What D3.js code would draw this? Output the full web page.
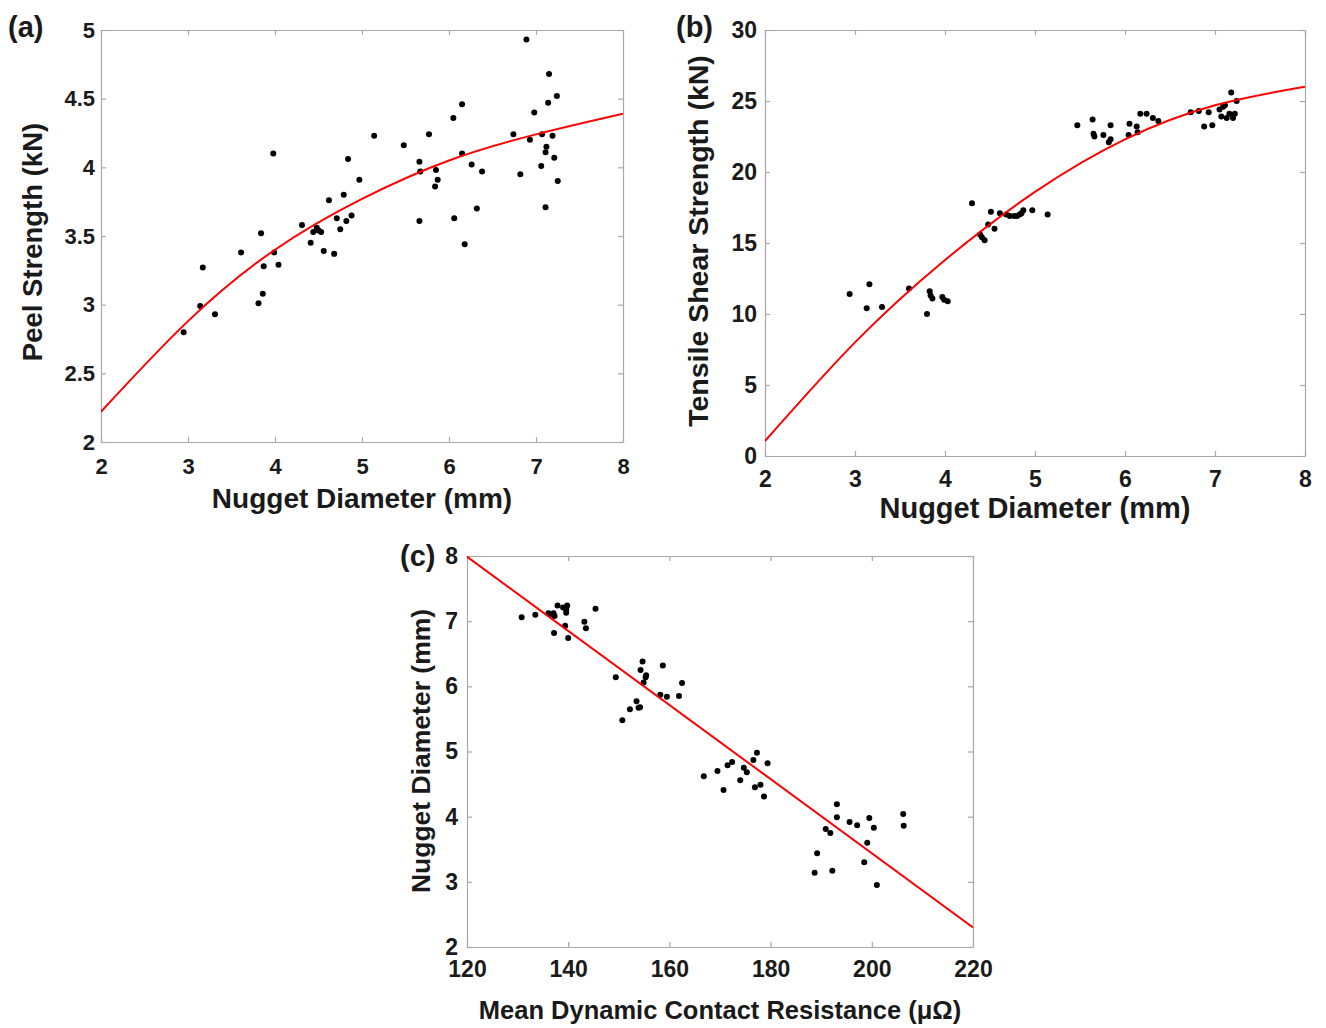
<!DOCTYPE html>
<html>
<head>
<meta charset="utf-8">
<script src="https://cdn.jsdelivr.net/npm/d3@7"></script>
<style>
  body { margin: 0; background: #fff; }
  text { font-family: 'Liberation Sans', Arial, sans-serif; font-weight: bold; fill: #1a1a1a; }
</style>
</head>
<body>
<svg id="chart" width="1326" height="1028"></svg>
<script>
'use strict';

// (a) peel strength vs nugget diameter
var peelDiam = [2.95, 3.14, 3.17, 3.31, 3.61, 3.81, 3.86, 3.84, 3.87, 3.98, 3.99, 4.04,
  4.31, 4.41, 4.44, 4.48, 4.50, 4.53, 4.56, 4.62, 4.68, 4.71, 4.75, 4.79, 4.82, 4.84, 4.88, 4.97,
  5.14, 5.48, 5.66, 5.67, 5.66, 5.77, 5.85, 5.87, 5.84, 6.05, 6.15, 6.15, 6.06, 6.18, 6.26, 6.32, 6.38,
  6.74, 6.82, 6.89, 6.93, 6.98, 7.06, 7.07, 7.11, 7.11, 7.12, 7.14, 7.15, 7.19, 7.21, 7.24, 7.25];
var peelStrength = [2.80, 2.99, 3.27, 2.93, 3.38, 3.01, 3.08, 3.52, 3.28, 4.10, 3.38, 3.29,
  3.58, 3.45, 3.53, 3.56, 3.54, 3.53, 3.39, 3.76, 3.37, 3.63, 3.55, 3.80, 3.61, 4.06, 3.65, 3.91,
  4.23, 4.16, 4.04, 3.97, 3.61, 4.24, 3.98, 3.91, 3.86, 4.36, 4.46, 4.10, 3.63, 3.44, 4.02, 3.70, 3.97,
  4.24, 3.95, 4.93, 4.20, 4.40, 4.01, 4.24, 3.71, 4.11, 4.15, 4.47, 4.68, 4.23, 4.07, 4.52, 3.90];
var fitDiam = [2, 3, 4, 5, 6, 7, 8];
var peelFit = [2.22, 2.88, 3.40, 3.77, 4.05, 4.24, 4.39];

// (b) tensile shear strength vs nugget diameter
var shearDiam = [2.94, 3.13, 3.16, 3.30, 3.60, 3.80, 3.83, 3.84, 3.86, 3.97, 3.99, 4.03,
  4.30, 4.39, 4.41, 4.44, 4.48, 4.51, 4.55, 4.61, 4.68, 4.72, 4.77, 4.80, 4.83, 4.85, 4.87, 4.97, 5.14,
  5.47, 5.64, 5.65, 5.66, 5.76, 5.84, 5.84, 5.82, 6.04, 6.05, 6.13, 6.14, 6.17, 6.24, 6.31, 6.37,
  6.73, 6.82, 6.88, 6.93, 6.97, 7.05, 7.07, 7.09, 7.11, 7.13, 7.16, 7.18, 7.20, 7.22, 7.24];
var shearStrength = [11.4, 10.4, 12.1, 10.5, 11.8, 10.0, 11.6, 11.3, 11.1, 11.2, 11.0, 10.9,
  17.8, 15.6, 15.4, 15.2, 16.3, 17.2, 16.0, 17.1, 17.0, 16.9, 16.9, 16.9, 17.0, 17.1, 17.3, 17.3, 17.0,
  23.3, 23.7, 22.7, 22.5, 22.6, 23.3, 22.3, 22.1, 22.6, 23.4, 23.2, 22.8, 24.1, 24.1, 23.8, 23.6,
  24.2, 24.3, 23.2, 24.2, 23.3, 24.4, 23.9, 24.6, 24.7, 23.8, 24.1, 25.6, 23.8, 24.1, 25.0];
var shearFit = [1.05, 8.0, 13.8, 18.6, 22.3, 24.7, 26.0];

// (c) nugget diameter vs mean dynamic contact resistance
var resistance = [130.8, 133.5, 136.1, 136.5, 137.1, 137.3, 137.2, 137.9, 139.0, 139.6, 139.8, 139.6,
  139.4, 140.0, 143.2, 143.5, 145.4, 149.4, 150.7, 152.2, 153.5, 153.9, 154.2, 154.7, 154.3, 155.4,
  155.3, 154.9, 158.7, 158.2, 159.5, 161.9, 162.5, 166.8, 169.5, 170.7, 171.5, 172.4, 174.0, 174.7,
  175.3, 176.6, 177.3, 176.9, 178.0, 178.7, 179.4, 188.7, 189.2, 190.9, 191.8, 192.2, 193.1, 193.1,
  195.6, 197.1, 199.1, 198.5, 199.5, 200.4, 201.0, 206.2, 206.3];
var resistDiam = [7.06, 7.10, 7.12, 7.11, 7.12, 7.08, 6.82, 7.24, 7.21, 7.18, 7.24, 7.13,
  6.93, 6.74, 6.99, 6.89, 7.19, 6.14, 5.48, 5.65, 5.77, 5.67, 5.68, 6.38, 6.25, 6.17,
  6.14, 6.06, 6.32, 5.87, 5.84, 5.85, 6.05, 4.62, 4.70, 4.41, 4.79, 4.84, 4.56, 4.75,
  4.68, 4.87, 4.98, 4.45, 4.49, 4.31, 4.82, 3.14, 3.44, 3.81, 3.75, 3.17, 4.19, 3.99,
  3.92, 3.87, 3.60, 3.30, 3.98, 3.83, 2.95, 4.04, 3.86];
var fitResist = [120, 220];
var resistFit = [7.99, 2.30];

var diamTicks = [2, 3, 4, 5, 6, 7, 8];
var peelTicks = [2, 2.5, 3, 3.5, 4, 4.5, 5];
var shearTicks = [0, 5, 10, 15, 20, 25, 30];
var resistTicks = [120, 140, 160, 180, 200, 220];
var resistDiamTicks = [2, 3, 4, 5, 6, 7, 8];

var svg = d3.select('#chart');
svg.append('rect').attr('width', 1326).attr('height', 1028).attr('fill', '#fff');

var fmt = d3.format('~g');

var drawPanel = function (p) {
  var x = d3.scaleLinear().domain(p.xDomain).range([p.left, p.right]);
  var y = d3.scaleLinear().domain(p.yDomain).range([p.bottom, p.top]);
  var g = svg.append('g');
  var pts = d3.zip(p.xs, p.ys);

  var clipId = 'clip-' + p.name;
  g.append('clipPath').attr('id', clipId)
    .append('rect')
    .attr('x', p.left).attr('y', p.top)
    .attr('width', p.right - p.left).attr('height', p.bottom - p.top);

  // axes, ticks pointing inwards on all four sides
  var axes = [
    { ax: d3.axisBottom(x).tickValues(p.xTicks).tickFormat(fmt), tr: [0, p.bottom], pad: p.xPad },
    { ax: d3.axisTop(x).tickValues(p.xTicks).tickFormat(''), tr: [0, p.top] },
    { ax: d3.axisLeft(y).tickValues(p.yTicks).tickFormat(fmt), tr: [p.left, 0], pad: p.yPad },
    { ax: d3.axisRight(y).tickValues(p.yTicks).tickFormat(''), tr: [p.right, 0] }
  ];
  axes.forEach(function (a) {
    var ag = g.append('g')
      .attr('transform', 'translate(' + a.tr[0] + ',' + a.tr[1] + ')')
      .style('color', '#a8a8a8')
      .call(a.ax.tickSizeInner(-5).tickSizeOuter(0).tickPadding(a.pad || 0));
    ag.selectAll('text')
      .style('font-size', p.tickSize + 'px')
      .style('font-family', "'Liberation Sans', Arial, sans-serif")
      .style('font-weight', 'bold')
      .attr('fill', '#1a1a1a');
    ag.select('.domain').attr('stroke-width', 1.2);
    ag.selectAll('.tick line').attr('stroke-width', 1.2);
  });

  g.append('g').selectAll('circle')
    .data(pts)
    .enter()
    .append('circle')
    .attr('cx', function (d) { return x(d[0]); })
    .attr('cy', function (d) { return y(d[1]); })
    .attr('r', 3)
    .attr('fill', '#000');

  var line = d3.line()
    .x(function (d) { return x(d[0]); })
    .y(function (d) { return y(d[1]); })
    .curve(d3.curveNatural);

  g.append('path')
    .datum(d3.zip(p.fitX, p.fitY))
    .attr('clip-path', 'url(#' + clipId + ')')
    .attr('d', line)
    .attr('fill', 'none')
    .attr('stroke', '#ff0000')
    .attr('stroke-width', 2);

  g.append('text')
    .attr('x', (p.left + p.right) / 2)
    .attr('y', p.xTitleY)
    .attr('text-anchor', 'middle')
    .style('font-size', p.titleSize + 'px')
    .text(p.xTitle);

  g.append('text')
    .attr('transform', 'translate(' + p.yTitleX + ',' + p.yTitleMid + ') rotate(-90)')
    .attr('text-anchor', 'middle')
    .style('font-size', p.yTitleSize + 'px')
    .text(p.yTitle);

  g.append('text')
    .attr('x', p.tagX)
    .attr('y', p.tagY)
    .style('font-size', '29px')
    .text(p.tag);
};

drawPanel({
  name: 'a', tag: '(a)', tagX: 8, tagY: 37,
  left: 101, right: 623, top: 30, bottom: 442,
  xDomain: [2, 8], yDomain: [2, 5],
  xTicks: diamTicks, yTicks: peelTicks,
  xs: peelDiam, ys: peelStrength, fitX: fitDiam, fitY: peelFit,
  tickSize: 22, xPad: 16, yPad: 6,
  xTitle: 'Nugget Diameter (mm)', xTitleY: 508, titleSize: 28,
  yTitle: 'Peel Strength (kN)', yTitleX: 42, yTitleMid: 242, yTitleSize: 27.5
});

drawPanel({
  name: 'b', tag: '(b)', tagX: 676, tagY: 37,
  left: 765, right: 1305, top: 30, bottom: 456,
  xDomain: [2, 8], yDomain: [0, 30],
  xTicks: diamTicks, yTicks: shearTicks,
  xs: shearDiam, ys: shearStrength, fitX: fitDiam, fitY: shearFit,
  tickSize: 23, xPad: 15, yPad: 8,
  xTitle: 'Nugget Diameter (mm)', xTitleY: 518, titleSize: 29,
  yTitle: 'Tensile Shear Strength (kN)', yTitleX: 708, yTitleMid: 241, yTitleSize: 28.5
});

drawPanel({
  name: 'c', tag: '(c)', tagX: 400, tagY: 566,
  left: 467, right: 973, top: 556, bottom: 947,
  xDomain: [120, 220], yDomain: [2, 8],
  xTicks: resistTicks, yTicks: resistDiamTicks,
  xs: resistance, ys: resistDiam, fitX: fitResist, fitY: resistFit,
  tickSize: 23, xPad: 14, yPad: 9,
  xTitle: 'Mean Dynamic Contact Resistance (\u03bc\u03a9)', xTitleY: 1019, titleSize: 25.5,
  yTitle: 'Nugget Diameter (mm)', yTitleX: 430, yTitleMid: 751, yTitleSize: 26.5
});
</script>
</body>
</html>
